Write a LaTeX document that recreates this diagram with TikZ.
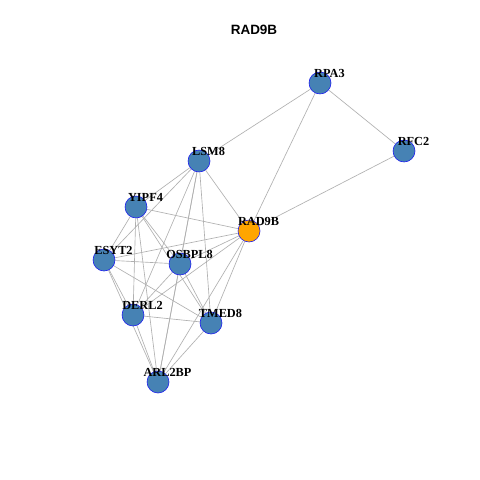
\documentclass[tikz,border=0pt]{standalone}
\usepackage{fontspec}
\setmainfont{Liberation Serif}
\setsansfont{Liberation Sans}
\usetikzlibrary{
	backgrounds
}
\definecolor{genecolor}{HTML}{4682B4}
\definecolor{querycolor}{HTML}{FFA500}
\definecolor{rimcolor}{HTML}{1A1AF0}
\definecolor{linkcolor}{HTML}{B0B0B0}
\tikzset{
	genenode/.style={
		circle,
		draw=rimcolor,
		fill=genecolor,
		line width=0.5pt,
		minimum size=0.66cm,
		inner sep=0pt
	},
	querynode/.style={
		genenode,
		fill=querycolor
	},
	genelabel/.style={
		font=\fontsize{10.5}{12}\selectfont\bfseries,
		inner sep=0pt,
		xshift=0.285cm,
		yshift=0.28cm
	},
	link/.style={
		draw=linkcolor,
		line width=0.55pt
	}
}

\begin{document}
\begin{tikzpicture}[x=0.03cm, y=-0.03cm]
		
		\useasboundingbox (0,0) rectangle (480,480);
		
		% Title
		\node[font=\sffamily\bfseries\fontsize{11.5}{13}\selectfont] (title) at (254,30) {RAD9B};
		
		% Nodes
		% Top right: replication factors
		\node[genenode, label={[genelabel]center:RPA3}] (rpa3) at (320,83) {};
		\node[genenode, label={[genelabel]center:RFC2}] (rfc2) at (404,151) {};
		
		% Query gene
		\node[querynode, label={[genelabel]center:RAD9B}] (rad9b) at (249,231) {};
		
		% Left cluster
		\node[genenode, label={[genelabel]center:LSM8}] (lsm8) at (199,161) {};
		\node[genenode, label={[genelabel]center:YIPF4}] (yipf4) at (136,207) {};
		\node[genenode, label={[genelabel]center:ESYT2}] (esyt2) at (104,260) {};
		\node[genenode, label={[genelabel]center:OSBPL8}] (osbpl8) at (180,264) {};
		\node[genenode, label={[genelabel]center:DERL2}] (derl2) at (133,315) {};
		\node[genenode, label={[genelabel]center:TMED8}] (tmed8) at (211,323) {};
		\node[genenode, label={[genelabel]center:ARL2BP}] (arl2bp) at (158,382) {};
		
		% Links
		\begin{scope}[on background layer]
			\fill[white] (0,0) rectangle (480,480);
			
			% RAD9B and the replication factors
			\draw[link] (rpa3) -- (rfc2);
			\draw[link] (rpa3) -- (lsm8);
			\draw[link] (rpa3) -- (rad9b);
			\draw[link] (rfc2) -- (rad9b);
			
			% dense cluster
			\foreach \a/\b in {
				lsm8/yipf4, lsm8/esyt2, lsm8/osbpl8, lsm8/derl2, lsm8/tmed8, lsm8/arl2bp, lsm8/rad9b,
				yipf4/esyt2, yipf4/osbpl8, yipf4/derl2, yipf4/tmed8, yipf4/arl2bp, yipf4/rad9b,
				esyt2/osbpl8, esyt2/derl2, esyt2/tmed8, esyt2/arl2bp, esyt2/rad9b,
				osbpl8/derl2, osbpl8/tmed8, osbpl8/arl2bp, osbpl8/rad9b,
				derl2/tmed8, derl2/arl2bp, derl2/rad9b,
				tmed8/arl2bp, tmed8/rad9b,
				arl2bp/rad9b}
				\draw[link] (\a) -- (\b);
		\end{scope}
		
	\end{tikzpicture}
\end{document}
